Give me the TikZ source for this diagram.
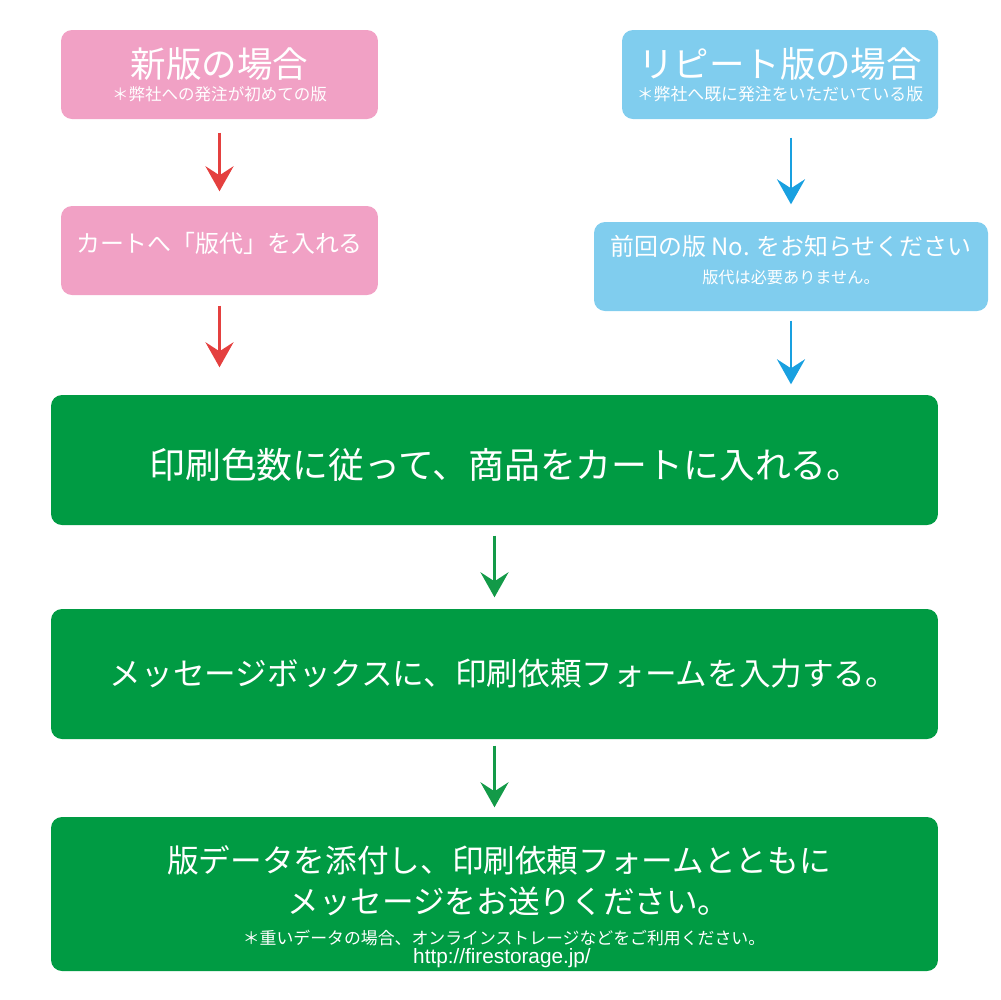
\documentclass[tikz,border=0pt]{standalone}
\usepackage{fontspec}
\setmainfont{Noto Sans CJK JP}
\newfontfamily\urlfont{Liberation Sans}
\usetikzlibrary{arrows.meta}

\definecolor{pinkbox}{HTML}{F1A1C5}
\definecolor{bluebox}{HTML}{80CDEE}
\definecolor{greenbox}{HTML}{009B43}
\definecolor{redarrow}{HTML}{E4403F}
\definecolor{bluearrow}{HTML}{19A0E0}
\definecolor{greenarrow}{HTML}{139A48}

\newcommand{\fsz}[2]{\fontsize{#1}{#2}\selectfont}
\newcommand{\tightskip}[1]{\fontsize{5pt}{#1}\selectfont\lineskiplimit=-100pt\relax}

\tikzset{
  box/.style={rounded corners=1.1mm, text=white, inner sep=0pt, align=center},
  flow/.style={line width=0.85pt, -{Stealth[length=2.5mm,width=2.8mm,inset=0.9mm]}},
}

\begin{document}
\begin{tikzpicture}[x=0.1mm,y=-0.1mm]
  \useasboundingbox (0,0) rectangle (1000,1000);

  % top row
  \node[box, fill=pinkbox, minimum width=31.7mm, minimum height=8.9mm,
        font=\tightskip{6.5pt}] (newcase) at (219.5,74.5)
    {\fsz{10.1pt}{10pt}新版の場合\\\fsz{4.7pt}{5pt}＊弊社への発注が初めての版};
  \node[box, fill=bluebox, minimum width=31.6mm, minimum height=8.9mm,
        font=\tightskip{6.5pt}] (repeatcase) at (780,74.5)
    {\fsz{10.1pt}{10pt}リピート版の場合\\\fsz{4.8pt}{5pt}＊弊社へ既に発注をいただいている版};

  % second row
  \node[box, fill=pinkbox, minimum width=31.7mm, minimum height=8.9mm] (newcart) at (219.5,250.5)
    {\fsz{6.8pt}{8pt}カートへ「版代」を入れる\rule[-4.5pt]{0pt}{1pt}};
  \node[box, fill=bluebox, minimum width=39.4mm, minimum height=8.9mm,
        font=\tightskip{8pt}] (prevno) at (791,266.5)
    {\fsz{6.8pt}{8pt}前回の版 No. をお知らせください\\\fsz{4.6pt}{5pt}版代は必要ありません。\rule[-4pt]{0pt}{1pt}};

  % green steps
  \node[box, fill=greenbox, minimum width=88.7mm, minimum height=13mm] (cartin) at (494.5,460)
    {\fsz{10.2pt}{12pt}\hspace*{2.3mm}印刷色数に従って、商品をカートに入れる。\rule{0pt}{11.5pt}};
  \node[box, fill=greenbox, minimum width=88.7mm, minimum height=13mm] (message) at (494.5,674)
    {\fsz{9pt}{11pt}\hspace*{1.8mm}メッセージボックスに、印刷依頼フォームを入力する。};
  \node[box, fill=greenbox, minimum width=88.7mm, minimum height=15.4mm,
        font=\tightskip{4.3pt}] (attach) at (494.5,894)
    {\fsz{9pt}{11.7pt}\hspace*{0.9mm}版データを添付し、印刷依頼フォームとともに\rule{0pt}{15pt}\\[7.4pt]
     \fsz{9pt}{11.7pt}\hspace*{2.8mm}メッセージをお送りください。\\[4.4pt]
     \fsz{4.8pt}{4.3pt}\hspace*{1.9mm}＊重いデータの場合、オンラインストレージなどをご利用ください。\\[1.2pt]
     \urlfont\fsz{5.9pt}{4.3pt}\hspace*{1.5mm}http://firestorage.jp/};

  % arrows
  \draw[flow, redarrow, shorten <=1.3mm, shorten >=1.4mm] (newcase) -- (newcart);
  \draw[flow, redarrow, shorten <=1mm, shorten >=2.7mm] (newcart) -- (newcart |- cartin.north);
  \draw[flow, bluearrow, shorten <=1.8mm, shorten >=1.7mm] (prevno.north |- repeatcase.south) -- (prevno.north);
  \draw[flow, bluearrow, shorten <=0.9mm, shorten >=1mm] (prevno) -- (prevno |- cartin.north);
  \draw[flow, greenarrow, shorten <=1mm, shorten >=1.1mm] (cartin) -- (message);
  \draw[flow, greenarrow, shorten <=0.6mm, shorten >=0.9mm] (message) -- (attach);
\end{tikzpicture}
\end{document}
